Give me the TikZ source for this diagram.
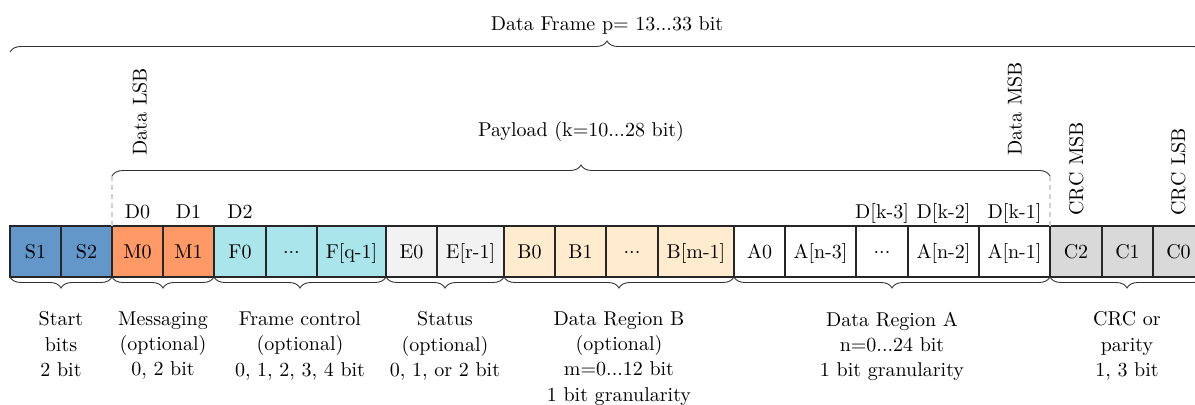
\documentclass[tikz,border=0pt]{standalone}
\usetikzlibrary{decorations.pathreplacing,calc}
\definecolor{cS}{RGB}{100,151,201}
\definecolor{cM}{RGB}{255,153,102}
\definecolor{cF}{RGB}{169,229,234}
\definecolor{cE}{RGB}{242,242,242}
\definecolor{cB}{RGB}{255,235,205}
\definecolor{cC}{RGB}{217,217,217}
\newcommand{\mydots}{\raisebox{0.6pt}{$\mathord{\cdot}\mathord{\cdot}\mathord{\cdot}$}}
\tikzset{
  cell/.style={draw=black!85, line width=0.6pt, minimum height=25.5pt, inner sep=0pt, outer sep=0pt,
    text height=6.83pt, text depth=0pt, anchor=west},
  w/.style={minimum width=#1},
  brc/.style={decorate, decoration={brace, amplitude=5.5pt}, draw=black!80, line width=0.45pt},
  brcm/.style={decorate, decoration={brace, amplitude=5.5pt, mirror}, draw=black!80, line width=0.45pt},
  dashln/.style={draw=black!18, line width=0.6pt, dash pattern=on 2.5pt off 2pt},
  rot/.style={rotate=90, anchor=base west, inner sep=0pt},
  dlbl/.style={anchor=base, inner sep=0pt},
  lbl/.style={anchor=north, inner sep=0pt, align=center, font=\fontsize{10}{12.6}\selectfont}
}
\begin{document}
\begin{tikzpicture}[x=0.5pt,y=-0.5pt]
\clip (0,0) rectangle (1195,405);
% cells
\node[cell, fill=cS, w=25.5pt] (S1) at (10,251.5) {S1};
\node[cell, fill=cS, w=25.5pt] (S2) at (S1.east) {S2};
\node[cell, fill=cM, w=25.5pt] (M0) at (S2.east) {M0};
\node[cell, fill=cM, w=25.5pt] (M1) at (M0.east) {M1};
\node[cell, fill=cF, w=26pt] (F0) at (M1.east) {F0};
\node[cell, fill=cF, w=25.5pt] (Fd) at (F0.east) {\mydots};
\node[cell, fill=cF, w=34.5pt] (Fq) at (Fd.east) {F[q-1]};
\node[cell, fill=cE, w=25.5pt] (E0) at (Fq.east) {E0};
\node[cell, fill=cE, w=33.5pt] (Er) at (E0.east) {E[r-1]};
\node[cell, fill=cB, w=25.5pt] (B0) at (Er.east) {B0};
\node[cell, fill=cB, w=25.5pt] (B1) at (B0.east) {B1};
\node[cell, fill=cB, w=26pt] (Bd) at (B1.east) {\mydots};
\node[cell, fill=cB, w=38pt] (Bm) at (Bd.east) {B[m-1]};
\node[cell, fill=white, w=25.5pt] (A0) at (Bm.east) {A0};
\node[cell, fill=white, w=35.5pt] (An3) at (A0.east) {A[n-3]};
\node[cell, fill=white, w=26pt] (Ad) at (An3.east) {\mydots};
\node[cell, fill=white, w=35.5pt] (An2) at (Ad.east) {A[n-2]};
\node[cell, fill=white, w=35.5pt] (An1) at (An2.east) {A[n-1]};
\node[cell, fill=cC, w=26pt] (C2) at (An1.east) {C2};
\node[cell, fill=cC, w=25.5pt] (C1) at (C2.east) {C1};
\node[cell, fill=cC, w=25.5pt] (C0) at (C1.east) {C0};
% rows
\coordinate (rowD) at (0,219);
\coordinate (rowL) at (0,311.5);
\coordinate (rowF) at (0,52);
\coordinate (rowP) at (0,176);
% D labels
\node[dlbl] (D0) at (M0 |- rowD) {D0};
\node[dlbl] (D1) at (M1 |- rowD) {D1};
\node[dlbl] (D2) at (F0 |- rowD) {D2};
\node[dlbl] (Dk3) at (Ad |- rowD) {D[k-3]};
\node[dlbl] (Dk2) at (An2 |- rowD) {D[k-2]};
\node[dlbl] (Dk1) at (An1 |- rowD) {D[k-1]};
% top braces
\coordinate (fL) at (S1.west |- rowF);
\coordinate (fR) at (C0.east |- rowF);
\draw[brc] (fL) -- (fR);
\node[dlbl] (frame) at ($(fL)!0.5!(fR) + (0,-21.5)$) {Data Frame p= 13...33 bit};
\coordinate (pL) at (M0.west |- rowP);
\coordinate (pR) at (An1.east |- rowP);
\draw[brc] (pL) -- (pR);
\node[dlbl] (payload) at ($(pL)!0.5!(pR) + (0,-39.5)$) {Payload (k=10...28 bit)};
\draw[dashln] (M0.north west) -- (pL);
\draw[dashln] (An1.north east) -- (pR);
% rotated labels
\node[rot] (dlsb) at (146.5,156) {Data LSB};
\node[rot] (dmsb) at (1021.5,156) {Data MSB};
\node[rot] (cmsb) at (1083,216) {CRC MSB};
\node[rot] (clsb) at (1185,216) {CRC LSB};
% bottom braces
\draw[brcm] (S1.south west) -- (S2.south east);
\draw[brcm] (M0.south west) -- (M1.south east);
\draw[brcm] (F0.south west) -- (Fq.south east);
\draw[brcm] (E0.south west) -- (Er.south east);
\draw[brcm] (B0.south west) -- (Bm.south east);
\draw[brcm] (A0.south west) -- (An1.south east);
\draw[brcm] (C2.south west) -- (C0.south east);
\coordinate (mS) at ($(S1.west)!0.5!(S2.east)$);
\coordinate (mM) at ($(M0.west)!0.5!(M1.east)$);
\coordinate (mF) at ($(F0.west)!0.5!(Fq.east)$);
\coordinate (mE) at ($(E0.west)!0.5!(Er.east)$);
\coordinate (mB) at ($(B0.west)!0.5!(Bm.east)$);
\coordinate (mA) at ($(A0.west)!0.5!(An1.east)$);
\coordinate (mC) at ($(C2.west)!0.5!(C0.east)$);
\node[lbl] (lS) at (mS |- rowL) {Start\\bits\\2 bit};
\node[lbl] (lM) at (mM |- rowL) {Messaging\\(optional)\\0, 2 bit};
\node[lbl] (lF) at (mF |- rowL) {Frame control\\(optional)\\0, 1, 2, 3, 4 bit};
\node[lbl] (lE) at (mE |- rowL) {Status\\(optional)\\0, 1, or 2 bit};
\node[lbl] (lB) at (mB |- rowL) {Data Region B\\(optional)\\m=0...12 bit\\1 bit granularity};
\node[lbl] (lA) at (mA |- rowL) {Data Region A\\n=0...24 bit\\1 bit granularity};
\node[lbl] (lC) at (mC |- rowL) {CRC or\\parity\\1, 3 bit};
\end{tikzpicture}
\end{document}
